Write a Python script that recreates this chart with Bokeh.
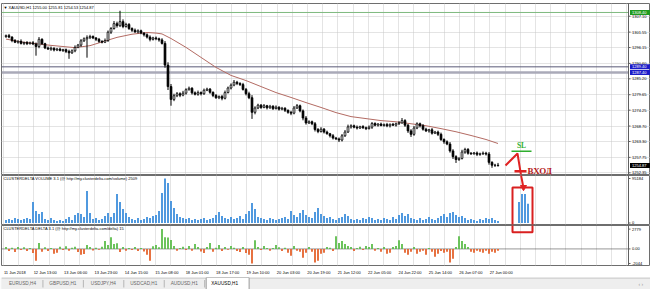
from bokeh.plotting import figure
from bokeh.layouts import column
from bokeh.models import Range1d, FixedTicker, Grid, Label, ColumnDataSource
from bokeh.embed import file_html
from bokeh.resources import INLINE
from bokeh.core.properties import value

# ---------------- data ----------------
first_open = 1300.0
closes = [
    1300.3, 1299.8, 1298.6, 1298.0, 1298.3, 1297.6, 1297.9, 1297.5, 1297.8, 1297.4,
    1296.5, 1299.0, 1297.5, 1296.0, 1295.6, 1295.9, 1295.3, 1295.6, 1295.1, 1295.4,
    1294.8, 1294.3, 1295.0, 1296.2, 1297.0, 1298.5, 1299.2, 1299.6, 1300.0, 1299.5,
    1299.0, 1298.3, 1298.0, 1298.6, 1301.5, 1302.8, 1304.5, 1303.8, 1305.2, 1303.5,
    1304.2, 1302.8, 1302.2, 1301.6, 1302.0, 1301.2, 1300.6, 1299.8, 1299.0, 1299.5,
    1299.2, 1298.8, 1297.6, 1290.0, 1282.5, 1278.0, 1279.3, 1280.0, 1279.5, 1280.2,
    1281.4, 1281.9, 1280.3, 1279.8, 1280.4, 1280.0, 1281.2, 1281.6, 1280.5, 1279.4,
    1278.6, 1279.0, 1278.4, 1280.4, 1282.0, 1283.0, 1284.0, 1283.6, 1283.2, 1281.5,
    1280.0, 1278.6, 1273.5, 1275.0, 1276.0, 1275.2, 1275.8, 1275.1, 1275.6, 1274.8,
    1275.3, 1274.6, 1274.9, 1274.2, 1273.5, 1273.2, 1275.0, 1275.8, 1274.0, 1271.5,
    1269.8, 1270.2, 1269.5, 1267.5, 1266.8, 1267.6, 1266.6, 1266.0, 1265.3, 1264.5,
    1264.2, 1263.8, 1265.3, 1266.6, 1268.4, 1268.8, 1268.3, 1268.0, 1268.5, 1268.1,
    1267.8, 1268.3, 1269.6, 1269.0, 1269.4, 1268.9, 1269.2, 1268.8, 1269.3, 1269.0,
    1269.5, 1269.8, 1270.6, 1269.0, 1267.0, 1265.8, 1268.0, 1269.5, 1268.8, 1267.6,
    1267.0, 1267.4, 1266.2, 1266.6, 1265.8, 1264.0, 1263.2, 1262.4, 1260.0, 1258.0,
    1257.0, 1257.4, 1259.6, 1260.5, 1259.2, 1259.0, 1259.3, 1258.8, 1259.0, 1259.2,
    1258.9, 1256.0, 1255.0, 1255.0, 1254.87]
wick_hi = [
    0.4, 0.6, 0.3, 0.5, 0.4, 0.7, 0.3, 0.5, 0.4, 0.6,
    0.5, 0.8, 0.4, 0.3, 0.5, 0.6, 0.3, 0.4, 0.5, 0.3,
    0.4, 0.6, 0.5, 0.7, 0.4, 0.6, 0.5, 0.8, 0.6, 0.4,
    0.3, 0.5, 0.4, 0.7, 0.6, 0.5, 0.9, 0.7, 3.8, 0.8,
    0.6, 0.5, 0.4, 0.6, 0.5, 0.4, 0.3, 0.5, 0.6, 0.4,
    0.5, 0.4, 0.6, 0.8, 1.0, 0.9, 0.7, 0.6, 0.5, 0.8,
    0.5, 0.6, 0.4, 0.5, 0.7, 0.4, 0.6, 0.5, 0.4, 0.3,
    0.5, 0.4, 0.6, 0.7, 0.5, 0.6, 0.8, 0.5, 0.4, 0.6,
    0.5, 0.7, 0.9, 0.6, 0.5, 0.4, 0.6, 0.3, 0.5, 0.4,
    0.6, 0.3, 0.5, 0.4, 0.3, 0.5, 0.7, 0.6, 0.4, 0.5,
    0.7, 0.5, 0.4, 0.6, 0.5, 0.7, 0.4, 0.5, 0.3, 0.6,
    0.4, 0.5, 0.6, 0.7, 0.8, 0.5, 0.4, 0.6, 0.3, 0.5,
    0.4, 0.6, 0.5, 0.4, 0.3, 0.5, 0.4, 0.6, 0.3, 0.5,
    0.4, 0.6, 0.9, 0.5, 0.4, 0.6, 0.7, 0.5, 0.4, 0.6,
    0.5, 0.3, 0.6, 0.4, 0.5, 0.6, 0.4, 0.5, 0.7, 0.6,
    0.5, 0.4, 0.8, 0.6, 0.5, 0.4, 0.3, 0.5, 0.4, 0.6,
    0.5, 0.7, 0.4, 0.5, 0.81]
wick_lo = [
    0.5, 0.4, 0.6, 0.3, 0.5, 0.4, 0.6, 0.5, 0.3, 0.4,
    3.2, 0.6, 0.5, 0.4, 0.3, 0.6, 0.5, 0.4, 0.3, 0.5,
    0.6, 2.1, 0.4, 0.5, 0.3, 0.6, 0.4, 6.6, 0.5, 0.4,
    0.6, 0.5, 0.4, 0.3, 0.5, 0.6, 0.4, 0.7, 0.5, 0.6,
    0.4, 0.5, 0.6, 0.3, 0.5, 0.4, 0.6, 0.5, 0.7, 0.4,
    0.5, 0.6, 0.4, 0.9, 1.2, 2.2, 0.6, 0.5, 0.7, 0.4,
    0.5, 0.3, 0.6, 0.4, 0.5, 0.6, 0.4, 0.3, 0.5, 0.6,
    0.4, 0.5, 0.7, 0.4, 0.3, 0.5, 0.4, 0.6, 0.5, 0.4,
    0.6, 0.5, 2.3, 0.7, 0.4, 0.5, 0.3, 0.6, 0.4, 0.5,
    0.3, 0.5, 0.4, 0.6, 0.5, 0.7, 0.4, 0.3, 0.5, 0.8,
    0.6, 0.4, 0.5, 0.7, 0.6, 0.4, 0.5, 0.3, 0.6, 0.5,
    0.4, 0.7, 0.5, 0.4, 0.3, 0.6, 0.4, 0.5, 0.3, 0.4,
    0.5, 0.3, 0.6, 0.4, 0.5, 0.3, 0.4, 0.5, 0.6, 0.3,
    0.5, 0.4, 0.3, 0.6, 0.7, 0.9, 0.5, 0.4, 0.6, 0.5,
    0.4, 0.6, 0.5, 0.3, 0.6, 0.5, 0.7, 0.4, 0.6, 0.8,
    1.2, 0.5, 0.4, 0.6, 0.5, 0.4, 0.3, 0.6, 0.5, 0.4,
    0.5, 0.8, 0.9, 0.6, 0.34]
volume = [
    6400, 8600, 6400, 10700, 8600, 6400, 8600, 10700, 8600, 44900,
    25700, 19300, 23500, 8600, 6400, 10700, 6400, 4300, 6400, 4300,
    8600, 12800, 6400, 17100, 21400, 19300, 12800, 68500, 21400, 8600,
    10700, 6400, 8600, 15000, 21400, 12800, 21400, 62100, 44900, 30000,
    21400, 12800, 8600, 6400, 10700, 6400, 8600, 12800, 10700, 15000,
    17100, 25700, 64200, 95184, 85600, 47100, 32100, 19300, 12800, 10700,
    8600, 10700, 6400, 8600, 6400, 8600, 10700, 6400, 8600, 10700,
    17100, 23500, 15000, 10700, 8600, 12800, 8600, 10700, 15000, 8600,
    19300, 25700, 42800, 30000, 12800, 10700, 8600, 6400, 10700, 8600,
    6400, 8600, 10700, 12800, 8600, 25700, 17100, 12800, 21400, 27800,
    17100, 12800, 10700, 23500, 32100, 19300, 15000, 10700, 12800, 8600,
    6400, 10700, 12800, 19300, 15000, 8600, 6400, 8600, 6400, 10700,
    8600, 12800, 10700, 6400, 8600, 6400, 10700, 8600, 6400, 12800,
    8600, 17100, 21400, 15000, 19300, 10700, 8600, 6400, 10700, 6400,
    8600, 12800, 8600, 6400, 10700, 15000, 19300, 12800, 21400, 23500,
    17100, 12800, 15000, 10700, 6400, 8600, 6400, 4300, 8600, 6400,
    10700, 8600, 10700, 6400, 4300]
vol_future_bars = [171, 172, 173, 174]
vol_future = [45000, 62000, 62000, 41000]
delta = [
    260, -310, 150, -420, 280, -160, 240, -300, 120, -560,
    -1650, 820, -390, 250, -280, 130, -690, -540, 300, -140,
    380, -250, 160, 300, -420, -830, -700, 560, 260, -240,
    150, -120, 290, 1100, 540, 1640, 700, 810, -430, 280,
    -260, 140, -150, 260, -290, 120, -380, -820, -1660, 390,
    560, 240, 2779, 1650, 1620, 1240, 420, -260, 140, 290,
    -150, 410, -270, 690, 280, -380, -560, 270, 820, -410,
    150, 540, -300, 260, -130, 400, 160, -280, -420, 270,
    -560, -830, -2044, 1230, 280, -150, 420, 130, -270, 140,
    560, 250, -290, 160, -540, -960, 400, -270, -410, -1230,
    -550, 270, -400, -1900, -1650, -690, -540, 260, 150, -280,
    1780, 820, 1100, 690, 410, 260, -280, 130, 290, -150,
    400, 270, 690, -260, 140, -410, 260, -690, -550, 270,
    410, 1230, 690, -550, -820, -400, 280, -690, -410, -270,
    -820, 140, -400, -1100, -690, -280, -540, -410, -1920, -1370,
    280, 1780, 1100, 690, 270, -410, -550, -270, -400, -540,
    -260, -690, -410, -550, -270]
ma_idx = [0, 5, 15, 23, 28, 32, 37, 42, 47, 50, 52, 55, 60, 65, 70, 75, 80, 85, 90,
          95, 100, 105, 110, 115, 120, 125, 130, 135, 140, 145, 150, 155, 160, 164]
ma_val = [1299.1, 1298.1, 1296.9, 1296.1, 1296.8, 1298.1, 1299.7, 1300.8, 1301.4,
          1301.2, 1300.9, 1299.3, 1296.2, 1292.7, 1289.2, 1286.4, 1284.6, 1282.5,
          1280.4, 1278.7, 1276.9, 1275.2, 1273.4, 1272.0, 1271.3, 1270.6, 1270.2,
          1269.5, 1268.8, 1267.8, 1266.7, 1265.4, 1264.0, 1262.6]
price_ticks = [1307.10, 1301.55, 1296.15, 1290.60, 1285.20, 1279.65, 1274.25,
               1268.70, 1263.30, 1257.75, 1252.35]
vol_ticks = [0, 95184]
vol_tick_labels = ["0", "95184"]
delta_ticks = [-2044, 0, 2779]
delta_tick_labels = ["-2044", "0.00", "2779"]
time_labels = ["11 Jun 2018", "12 Jun 13:00", "13 Jun 06:00", "13 Jun 23:00",
               "14 Jun 15:00", "15 Jun 08:00", "18 Jun 01:00", "18 Jun 17:00",
               "19 Jun 10:00", "20 Jun 03:00", "20 Jun 19:00", "21 Jun 12:00",
               "22 Jun 05:00", "24 Jun 22:00", "25 Jun 14:00", "26 Jun 07:00",
               "27 Jun 00:00"]
tab_names = ["EURUSD,H4", "GBPUSD,H1", "USDJPY,H4", "USDCAD,H1", "AUDUSD,H1", "XAUUSD,H1"]
level_green = 1308.40
levels_blue = [1289.40, 1287.40]
last_price = 1254.87
header = "\u25bc XAUUSD,H1  1255.00 1255.81 1254.53 1254.87"
vol_title = "CLUSTERDELTA VOLUME 3.1 (@ http://my.clusterdelta.com/volume) 2509"
delta_title = "CLUSTERDELTA DELTA 3.1 (@ http://my.clusterdelta.com/delta) 15"

# ---------------- layout helpers ----------------
W = 650
SCALE_PX = 628   # left edge of the price scale
LB = 1
PX = 3.0         # pixels per bar
X0PX = 5.5       # pixel of bar 0
xr = Range1d((LB - X0PX) / PX, (W - X0PX) / PX)
def px2x(p):
    return (p - X0PX) / PX
XS = px2x(SCALE_PX)

FONT = "Liberation Sans"
GRID_C = "#c9c9c9"

grid_x = [px2x(3 + 15.2 * k) for k in range(42)]
label_ticks = [round(px2x(3 + 30.4 * k + 11.3), 3) for k in range(len(time_labels))]

N = len(closes)
idx = list(range(N))
opens = [first_open] + closes[:-1]
highs = [max(o, c) + w for o, c, w in zip(opens, closes, wick_hi)]
lows = [min(o, c) - w for o, c, w in zip(opens, closes, wick_lo)]


def base_fig(h, yr, top, bottom, xloc=None):
    p = figure(width=W, height=h, x_range=xr, y_range=yr, output_backend="svg",
               toolbar_location=None, x_axis_location=xloc, y_axis_location=None,
               min_border_left=LB, min_border_right=0, min_border_top=top,
               min_border_bottom=bottom, background_fill_color="white",
               border_fill_color="white", outline_line_color="#6e6e6e")
    for g in p.grid:
        g.visible = False
    p.add_layout(Grid(dimension=0, ticker=FixedTicker(ticks=grid_x),
                      grid_line_color=GRID_C, grid_line_dash="1 1"))
    return p


def add_scale(p, ticks, labels, ylo, yhi):
    # separator line of the value scale, its tick marks and labels
    p.segment(x0=[XS], y0=[ylo], x1=[XS], y1=[yhi], line_color="#606060", line_width=1)
    p.segment(x0=[XS] * len(ticks), y0=ticks, x1=[px2x(SCALE_PX + 2)] * len(ticks),
              y1=ticks, line_color="#606060", line_width=1)
    p.text(x=[px2x(SCALE_PX + 3.5)] * len(ticks), y=ticks, text=labels,
           text_font=value(FONT), text_font_size="4px", text_color="black",
           text_align="left", text_baseline="middle")


# ---------------- main price pane ----------------
PPX = 0.3496
main = base_fig(175, Range1d(1251.76, 1311.54), 3, 1)
main.add_layout(Grid(dimension=1, ticker=FixedTicker(ticks=price_ticks),
                     grid_line_color=GRID_C, grid_line_dash="1 1",
                     bounds=(xr.start, XS)))

main.segment(x0=[xr.start], y0=[level_green], x1=[XS], y1=[level_green],
             line_color="#7fba7f", line_width=1)
main.segment(x0=[xr.start], y0=[levels_blue[0]], x1=[XS], y1=[levels_blue[0]],
             line_color="#5a5a78", line_width=1)
main.segment(x0=[xr.start], y0=[levels_blue[1]], x1=[XS], y1=[levels_blue[1]],
             line_color="#aaaab8", line_width=2.5)

src = ColumnDataSource(dict(
    i=idx, h=highs, l=lows,
    top=[max(o, c) for o, c in zip(opens, closes)],
    bot=[min(o, c) for o, c in zip(opens, closes)],
    fill=["white" if c >= o else "black" for o, c in zip(opens, closes)]))
main.line(ma_idx, ma_val, line_color="#b36b63", line_width=1)
main.segment(x0="i", y0="h", x1="i", y1="l", line_color="black", line_width=1, source=src)
main.vbar(x="i", width=0.6, top="top", bottom="bot", fill_color="fill",
          line_color="black", line_width=0.8, source=src)

main.add_layout(Label(x=px2x(3), y=1310.2, text=header, text_font=FONT,
                      text_font_size="4px", text_color="black", text_baseline="middle"))

# trade annotations (hand-drawn on the original)
main.segment(x0=[px2x(511)], y0=[1259.9], x1=[px2x(531)], y1=[1259.9],
             line_color="#2fae2f", line_width=1.5)
main.text(x=[px2x(521)], y=[1261.8], text=["SL"], text_font=value("Liberation Serif"),
          text_font_style="bold", text_font_size="7.5px", text_color="#2fae2f",
          text_align="center", text_baseline="middle")
main.line(x=[px2x(505), px2x(517), px2x(523)], y=[1254.9, 1259.1, 1246.2],
          line_color="#e02222", line_width=2)
main.segment(x0=[px2x(514)], y0=[1252.9], x1=[px2x(526)], y1=[1252.9],
             line_color="#e02222", line_width=2.5)
main.text(x=[px2x(527)], y=[1253.0], text=["\u0412\u0425\u041e\u0414"],
          text_font=value("Liberation Serif"), text_font_style="bold",
          text_font_size="9px", text_color="#b51a1a", text_align="left",
          text_baseline="middle")

add_scale(main, price_ticks, ["%.2f" % t for t in price_ticks], 1240, 1320)

# coloured price boxes on the scale
box_levels = [level_green, levels_blue[0], levels_blue[1], last_price]
box_colors = ["#1f9a1f", "#1c1cc8", "#1c1cc8", "#000000"]
main.rect(x=[px2x(640)] * 4, y=box_levels, width=21 / PX, height=[5 * PPX] * 4,
          fill_color=box_colors, line_color=None)
main.text(x=[px2x(631.5)] * 4, y=box_levels, text=["%.2f" % v for v in box_levels],
          text_font=value(FONT), text_font_size="4px", text_color="white",
          text_align="left", text_baseline="middle")

# ---------------- volume pane ----------------
vol = base_fig(50, Range1d(-3209, 101600), 0, 1)
vol.vbar(x=idx, top=volume, bottom=0, width=0.6, fill_color="#3d8edc", line_color=None)
vol.vbar(x=vol_future_bars, top=vol_future, bottom=0, width=0.6, fill_color="#3d8edc",
         line_color=None)
vol.add_layout(Label(x=px2x(3), y=94500, text=vol_title, text_font=FONT,
                     text_font_size="4px", text_color="black", text_baseline="middle"))
vol.quad(left=[px2x(512)], right=[px2x(532)], top=[75900], bottom=[-50000],
         fill_color=None, line_color="#d92020", line_width=2)
vol.line(x=[px2x(520.4), px2x(523)], y=[103700, 75000], line_color="#e02222", line_width=2)
vol.scatter(x=[px2x(523)], y=[76500], marker="inverted_triangle", size=6,
            fill_color="#e02222", line_color="#e02222")
add_scale(vol, vol_ticks, vol_tick_labels, -20000, 120000)

# ---------------- delta pane ----------------
dl = base_fig(52, Range1d(-2329, 3288), 0, 11, xloc="below")
xa = dl.xaxis[0]
xa.ticker = FixedTicker(ticks=label_ticks)
xa.major_label_overrides = {t: s for t, s in zip(label_ticks, time_labels)}
xa.major_label_text_font_size = "4px"
xa.major_label_text_font = FONT
xa.major_label_text_color = "black"
xa.major_tick_out = 0
xa.major_tick_in = 0
xa.minor_tick_out = 0
xa.minor_tick_in = 0
xa.major_label_standoff = 4
xa.axis_line_color = None
dl.segment(x0=[xr.start], y0=[0], x1=[XS], y1=[0], line_color="#303030",
           line_dash="1 1", line_width=1)
dcol = ["#5cbd4b" if d > 0 else "#e5622c" for d in delta]
dl.vbar(x=idx, top=delta, bottom=0, width=0.6, fill_color=dcol, line_color=None)
dl.add_layout(Label(x=px2x(3), y=2836, text=delta_title, text_font=FONT,
                    text_font_size="4px", text_color="black", text_baseline="middle"))
dl.quad(left=[px2x(512)], right=[px2x(532)], top=[10000], bottom=[2329],
        fill_color=None, line_color="#d92020", line_width=2)
add_scale(dl, delta_ticks, delta_tick_labels, -5000, 5000)

# ---------------- tab strip ----------------
tabs = figure(width=W, height=12, x_range=Range1d(0, W), y_range=Range1d(12, 0),
              output_backend="svg", toolbar_location=None, x_axis_location=None,
              y_axis_location=None, min_border=0, background_fill_color="#eeeeee",
              border_fill_color="#eeeeee", outline_line_color=None)
tabs.xgrid.visible = False
tabs.ygrid.visible = False
tabs.segment(x0=[0], y0=[0.5], x1=[W], y1=[0.5], line_color="#bdbdbd", line_width=1)
tab_w = 40.5
active = len(tab_names) - 1
tabs.quad(left=[205], right=[248], top=[0], bottom=[12], fill_color="white",
          line_color="#9a9a9a", line_width=1)
tabs.segment(x0=[41.5 + tab_w * k for k in range(active)], y0=[2.5] * active,
             x1=[41.5 + tab_w * k for k in range(active)], y1=[10] * active,
             line_color="#b5b5b5", line_width=1)
tabs.text(x=[21 + tab_w * k for k in range(len(tab_names))], y=[6.3] * len(tab_names),
          text=tab_names, text_font=value(FONT), text_font_size="4.7px",
          text_color=["#666666"] * active + ["#000000"], text_align="center",
          text_baseline="middle")
tabs.text(x=[641], y=[6.0], text=["\u2039  \u203a"], text_font=value(FONT),
          text_font_size="5px", text_color="#9a9a9a", text_align="center",
          text_baseline="middle")

layout = column(main, vol, dl, tabs, spacing=0)
open("out.html", "w").write(file_html(layout, INLINE))
